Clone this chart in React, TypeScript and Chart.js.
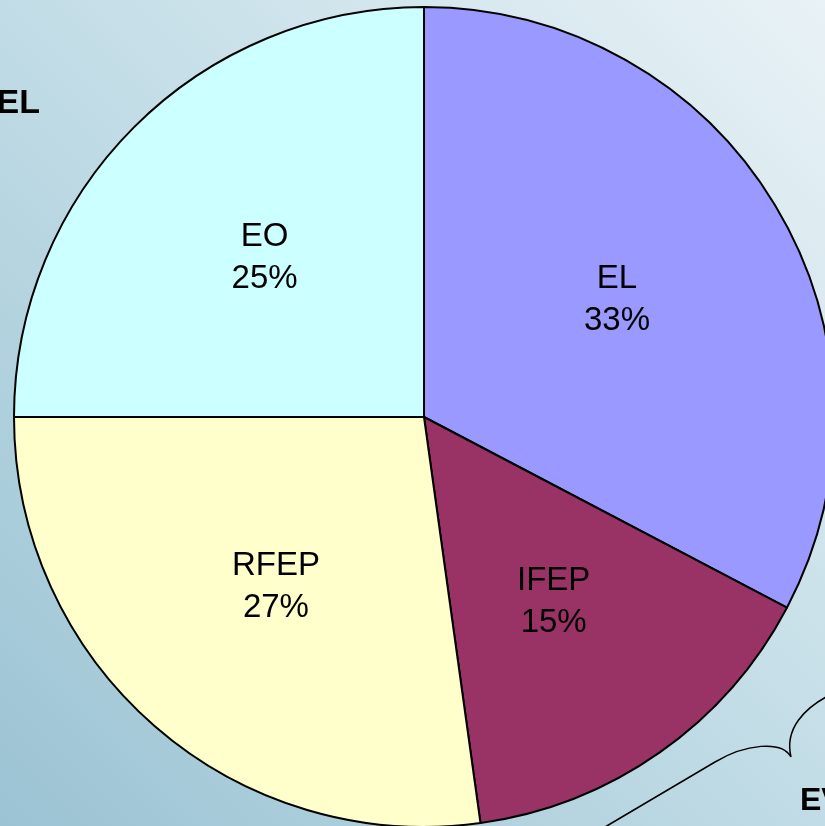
import React, { useEffect, useRef } from "react";
import { Chart, registerables } from "chart.js";

Chart.register(...registerables);

const categories = ["EL", "IFEP", "RFEP", "EO"];
const values = [32.7, 15.1, 27.2, 25.0];
const colors = ["#9999FF", "#993366", "#FFFFCC", "#CCFFFF"];

const sideTextLeft = "EL";
const sideTextRight = "EV";

const bgPlugin = {
  id: "bg",
  beforeDraw(chart: any) {
    const ctx = chart.ctx;
    ctx.save();
    const g = ctx.createLinearGradient(825, 0, 0, 826);
    g.addColorStop(0, "#e9f2f6");
    g.addColorStop(0.5, "#c1dce6");
    g.addColorStop(1, "#9bc3d3");
    ctx.fillStyle = g;
    ctx.fillRect(0, 0, chart.width, chart.height);
    ctx.restore();
  },
};

const labelPlugin = {
  id: "sliceLabels",
  afterDatasetsDraw(chart: any) {
    const ctx = chart.ctx;
    const meta = chart.getDatasetMeta(0);
    const data = chart.data.datasets[0].data as number[];
    const total = data.reduce((a, b) => a + b, 0);
    ctx.save();
    ctx.font = "33px 'Liberation Sans', Arial, sans-serif";
    ctx.fillStyle = "#000";
    ctx.textAlign = "center";
    ctx.textBaseline = "middle";
    meta.data.forEach((arc: any, i: number) => {
      const p = arc.getProps(["x", "y", "startAngle", "endAngle", "outerRadius"], true);
      const mid = (p.startAngle + p.endAngle) / 2;
      const r = p.outerRadius * 0.55;
      const x = p.x + Math.cos(mid) * r;
      const y = p.y + Math.sin(mid) * r;
      const pct = Math.round((data[i] / total) * 100) + "%";
      ctx.fillText(chart.data.labels[i], x, y - 21);
      ctx.fillText(pct, x, y + 21);
    });
    ctx.restore();
  },
  afterDraw(chart: any) {
    const ctx = chart.ctx;
    ctx.save();
    ctx.fillStyle = "#000";
    ctx.font = "bold 34px 'Liberation Sans', Arial, sans-serif";
    ctx.textAlign = "right";
    ctx.textBaseline = "alphabetic";
    ctx.fillText(sideTextLeft, 40, 113);
    ctx.font = "bold 32px 'Liberation Sans', Arial, sans-serif";
    ctx.textAlign = "left";
    ctx.fillText(sideTextRight, 800, 810);
    ctx.strokeStyle = "#000";
    ctx.lineWidth = 1.5;
    ctx.beginPath();
    ctx.moveTo(605, 827);
    ctx.lineTo(715, 762);
    ctx.bezierCurveTo(745, 744, 782, 740, 791, 757);
    ctx.moveTo(791, 757);
    ctx.bezierCurveTo(784, 728, 806, 708, 826, 697);
    ctx.stroke();
    ctx.restore();
  },
};

export default function App() {
  const ref = useRef<HTMLCanvasElement>(null);
  useEffect(() => {
    if (!ref.current) return;
    const chart = new Chart(ref.current, {
      type: "pie",
      data: {
        labels: categories,
        datasets: [
          {
            data: values,
            backgroundColor: colors,
            borderColor: "#000",
            borderWidth: 2,
            hoverOffset: 0,
          },
        ],
      },
      options: {
        responsive: false,
        animation: false,
        radius: 410,
        layout: { padding: { left: 13, right: 5, top: 6, bottom: 12 } },
        plugins: {
          legend: { display: false },
          tooltip: { enabled: false },
        },
        events: [],
      } as any,
      plugins: [bgPlugin, labelPlugin],
    });
    return () => chart.destroy();
  }, []);
  return (
    <div
      style={{
        position: "fixed",
        left: 0,
        top: 0,
        width: 825,
        height: 826,
        overflow: "hidden",
      }}
    >
      <canvas
        ref={ref}
        width={840}
        height={840}
        style={{ position: "absolute", left: 0, top: 0, width: 840, height: 840 }}
      />
    </div>
  );
}
